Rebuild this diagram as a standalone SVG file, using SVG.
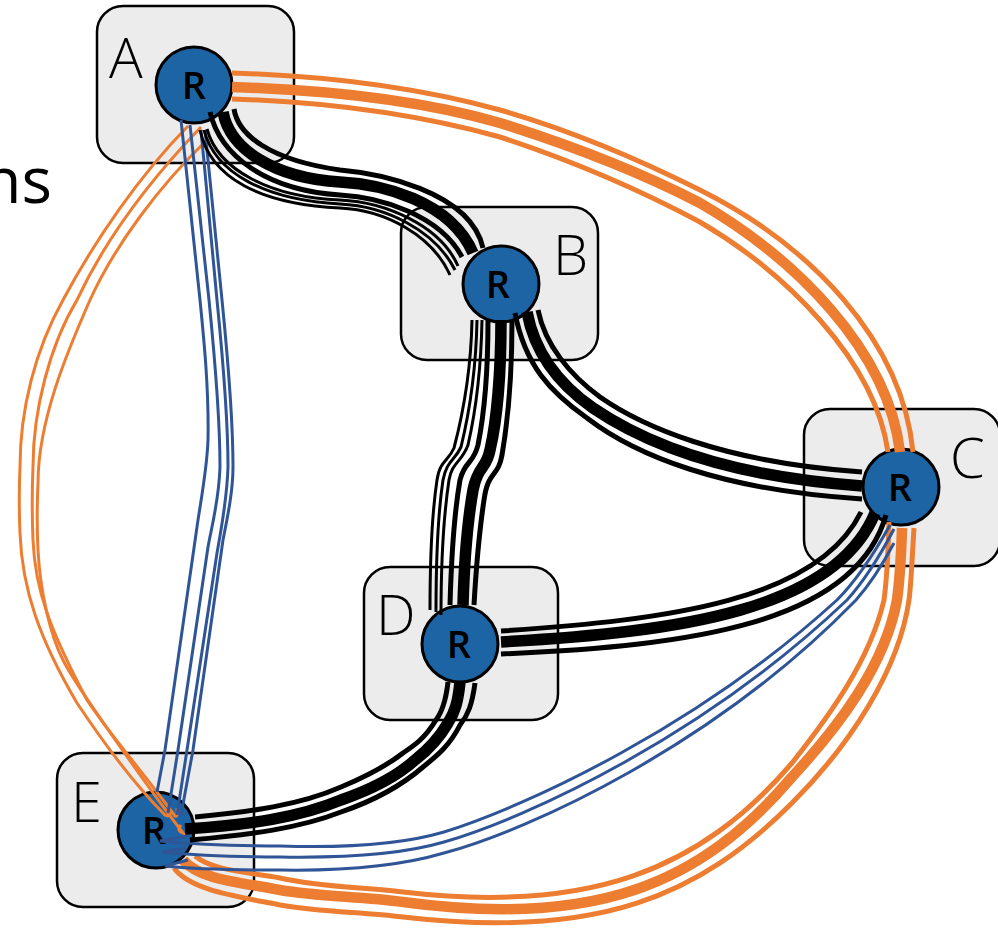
<svg xmlns="http://www.w3.org/2000/svg" width="998" height="929" viewBox="0 0 998 929">
<style>
.box{fill:#ececec;stroke:#000;stroke-width:2.5}
.rt{fill:#1c64a4;stroke:#000;stroke-width:3}
.lb{font-family:"Open Sans","Noto Sans",sans-serif;font-weight:300;font-size:56px;fill:#000}
.r{font-family:"Open Sans","Noto Sans",sans-serif;font-weight:600;font-size:38px;fill:#000;text-anchor:middle}
.ns{font-family:"Open Sans","Noto Sans",sans-serif;font-size:64px;fill:#000;text-anchor:end}
#connectors path{fill:none}
.k1{stroke:#000;stroke-width:5}
.k2{stroke:#000;stroke-width:11.5}
.k0{stroke:#000;stroke-width:3}
.o1{stroke:#ed7d31;stroke-width:5}
.o2{stroke:#ed7d31;stroke-width:10.5}
.o0{stroke:#ed7d31;stroke-width:3}
.b0{stroke:#2f5597;stroke-width:3}
</style>
<text class="ns" x="52" y="203">ns</text>
<g id="node-A"><rect class="box" x="97" y="6" width="197" height="157" rx="26"/><text class="lb" x="109" y="78">A</text><circle class="rt" cx="194" cy="85" r="38"/><text class="r" x="194" y="99">R</text></g>
<g id="node-B"><rect class="box" x="401" y="207" width="197" height="153" rx="26"/><text class="lb" x="553" y="275">B</text><circle class="rt" cx="501" cy="284" r="38"/><text class="r" x="498" y="298">R</text></g>
<g id="node-C"><rect class="box" x="804" y="409" width="196" height="157" rx="26"/><text class="lb" x="950" y="478">C</text><circle class="rt" cx="901" cy="487" r="38"/><text class="r" x="900" y="501">R</text></g>
<g id="node-D"><rect class="box" x="364" y="567" width="194" height="153" rx="26"/><text class="lb" x="376" y="635">D</text><circle class="rt" cx="460" cy="644" r="38"/><text class="r" x="459" y="658">R</text></g>
<g id="node-E"><rect class="box" x="57" y="753" width="197" height="154" rx="26"/><text class="lb" x="71" y="822">E</text><circle class="rt" cx="156" cy="830" r="38"/><text class="r" x="154" y="844">R</text></g>
<g id="connectors">
<path class="o1" d="M232,73C330,76 420,88 500,110C570,130 640,160 700,190C810,245 902,340 913,452"/>
<path class="o2" d="M232,87C330,90 420,100 500,123C570,145 640,172 700,203C795,258 888,350 900,452"/>
<path class="o1" d="M232,99C330,102 420,115 500,137C570,160 640,190 700,222C785,272 875,360 888,452"/>
<path class="o1" d="M914,528C912,560 911,585 909,600C899,670 850,745 792,803C700,895 600,940 403,917C360,912 320,912 280,905C235,896 190,890 174,868"/>
<path class="o2" d="M902,528C901,560 899,585 897,600C885,665 840,725 792,777C700,885 595,928 403,902C360,896 320,897 280,890C240,882 200,880 183,860"/>
<path class="o1" d="M889,522C888,560 886,585 884,600C870,660 830,715 792,763C700,870 590,914 403,892C360,887 320,887 280,878C250,872 215,872 195,856"/>
<path class="o0" d="M188,126C140,175 95,240 63,300C35,350 20,410 20,467C19,490 19,510 20,533C22,590 40,640 77,703C105,745 135,785 165,815Q170,818 171,811"/>
<path class="o0" d="M201,127C150,180 105,240 77,300C50,345 33,410 33,467C32,490 32,515 33,540C35,590 50,630 87,700C105,728 145,775 175,816Q178,818 177,808"/>
<path class="o0" d="M207,140C160,185 115,245 90,300C68,350 38,420 38,483C37,505 37,530 38,550C40,590 50,635 63,660C75,685 150,790 183,833Q176,831 181,825"/>
<path class="b0" d="M181,120L200,300C204,340 209,390 208,440C207,470 200,505 197,527L165,750L157,792"/>
<path class="b0" d="M190,125L209,300C214,350 220,420 220,467C219,500 212,525 208,547L178,750L168,813"/>
<path class="b0" d="M201,130L217,300C222,350 228,420 228,467C227,500 221,530 217,553L187,750L177,815"/>
<path class="b0" d="M205,130L222,300C227,350 233,420 233,467C233,490 228,515 223,540L193,750L181,815"/>
<path class="b0" d="M188,836L160,841C200,845 250,846 280,846C340,848 400,845 444,832C530,805 700,725 837,600C855,582 875,552 890,525"/>
<path class="b0" d="M186,848L162,852C200,856 250,857 280,857C340,858 400,855 444,842C530,817 705,735 847,600C865,580 882,552 894,529"/>
<path class="b0" d="M188,860L165,866C200,870 250,870 280,870C340,871 400,866 444,853C530,830 715,745 856,600C872,582 885,560 894,543"/>
<path class="k1" d="M234,109C238,135 270,160 340,170C375,173 470,190 483,248"/>
<path class="k2" d="M223,112C230,150 275,178 340,182C380,184 450,200 473,253"/>
<path class="k1" d="M210,112C220,155 265,190 340,195C380,197 440,215 462,257"/>
<path class="k0" d="M207,129C218,170 270,197 340,200C385,202 440,225 458,266"/>
<path class="k0" d="M204,130C215,173 265,200 340,204C385,206 435,230 455,270"/>
<path class="k0" d="M200,130C210,178 260,204 340,208C385,210 432,235 450,275"/>
<path class="k1" d="M538,310C545,345 570,375 600,397C640,425 720,462 862,472"/>
<path class="k2" d="M527,312C535,355 560,385 593,408C640,440 720,476 862,486"/>
<path class="k1" d="M515,313C525,365 550,392 587,418C635,455 720,490 862,499"/>
<path class="k1" d="M861,512C818,600 670,620 501,631"/>
<path class="k2" d="M875,513C835,610 680,632 501,642"/>
<path class="k1" d="M886,515C855,624 690,646 501,654"/>
<path class="k1" d="M448,682C446,700 442,712 436,720C425,738 415,745 403,753C385,767 365,777 341,787C300,805 250,812 195,817"/>
<path class="k2" d="M460,682C458,702 455,712 448,723C438,740 428,750 415,760C395,778 370,790 341,800C300,817 250,825 185,829"/>
<path class="k1" d="M475,683C472,705 468,715 460,725C450,745 438,755 423,767C400,787 370,802 341,812C300,828 250,835 190,840"/>
<path class="k1" d="M512,320C512,370 508,420 502,455C498,478 488,470 484,500C478,540 476,570 474,605"/>
<path class="k2" d="M501,320C501,370 497,420 490,450C486,470 478,465 473,490C466,530 464,570 463,605"/>
<path class="k1" d="M488,320C488,370 485,410 478,445C473,465 465,460 460,480C453,520 451,570 450,605"/>
<path class="k0" d="M482,320C481,370 476,410 468,445C462,462 452,462 449,480C443,520 441,570 441,615"/>
<path class="k0" d="M477,320C476,370 470,410 461,447C454,462 447,460 443,480C437,520 436,570 436,612"/>
<path class="k0" d="M472,320C471,370 464,410 454,448C448,462 440,460 437,480C431,520 430,570 430,610"/>
</g>
</svg>
